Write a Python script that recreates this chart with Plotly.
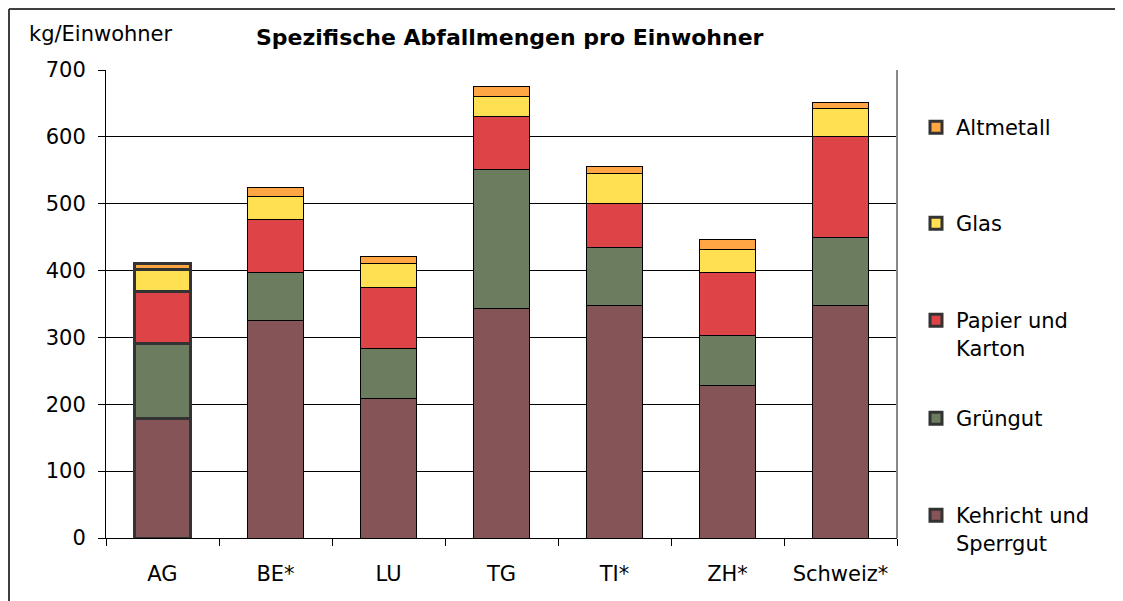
import plotly.graph_objects as go

categories = ["AG", "BE*", "LU", "TG", "TI*", "ZH*", "Schweiz*"]
kehricht = [179, 325, 208, 343, 348, 228, 348]
gruengut = [112, 72, 75, 208, 86, 75, 102]
papier = [78, 80, 91, 80, 67, 94, 150]
glas = [32, 34, 36, 29, 44, 34, 42]
altmetall = [10, 13, 11, 16, 11, 15, 10]

series_names = ["Kehricht und<br>Sperrgut", "Grüngut", "Papier und<br>Karton", "Glas", "Altmetall"]
series_values = [kehricht, gruengut, papier, glas, altmetall]
colors = ["#855457", "#6C7C5E", "#DD4448", "#FFE052", "#FFA644"]
# screen y of first text line centre of each legend entry
legend_line_y = [515, 418, 320, 223, 127]

FONT = "DejaVu Sans"
OFF = 8  # page body margin
W, H = 1123, 601
PL, PT, PW, PH = 106, 70, 791, 468  # plot area in screen pixels
L, T = PL - OFF, PT - OFF
R, B = W - L - PW, H - T - PH


def px(x):
    return (x - PL) / PW


def py(y):
    return (PT + PH - y) / PH


line_widths = [3] + [1] * (len(categories) - 1)
line_colors = ["#333333"] + ["#000000"] * (len(categories) - 1)

fig = go.Figure()
legends = {}
for i, (name, vals, col, ly) in enumerate(zip(series_names, series_values, colors, legend_line_y)):
    key = "legend" if i == 0 else f"legend{i + 1}"
    fig.add_trace(go.Bar(
        x=categories, y=vals, name=name,
        marker=dict(color=col, line=dict(color=line_colors, width=line_widths)),
        legend=key,
    ))
    legends[key] = dict(
        x=px(916), y=py(ly - 20), xanchor="left", yanchor="top",
        valign="top", font=dict(family=FONT, size=21, color="black"),
        bgcolor="rgba(0,0,0,0)",
    )

fig.update_layout(
    barmode="stack",
    bargap=0.5,
    width=W, height=H,
    margin=dict(l=L, r=R, t=T, b=B, pad=0),
    paper_bgcolor="white",
    plot_bgcolor="white",
    font=dict(family=FONT, size=21, color="black"),
    showlegend=True,
    xaxis=dict(
        showgrid=False, showline=True, linecolor="black", linewidth=1,
        ticks="outside", tickson="boundaries", ticklen=7, tickcolor="black",
        tickfont=dict(family=FONT, size=21, color="black"),
        ticklabelstandoff=17,
    ),
    yaxis=dict(
        range=[0, 700], dtick=100, showgrid=True, gridcolor="black", gridwidth=1,
        showline=True, linecolor="black", linewidth=1,
        ticks="outside", ticklen=7, tickcolor="black",
        tickfont=dict(family=FONT, size=21, color="black"),
        ticklabelstandoff=8, zeroline=False,
    ),
    annotations=[
        dict(text="<b>Spezifische Abfallmengen pro Einwohner</b>", xref="paper", yref="paper",
             x=px(510), y=py(37), xanchor="center", yanchor="middle", showarrow=False,
             font=dict(family=FONT, size=22, color="black")),
        dict(text="kg/Einwohner", xref="paper", yref="paper",
             x=px(27), y=py(34), xanchor="left", yanchor="middle", showarrow=False,
             font=dict(family=FONT, size=21, color="black")),
    ],
    shapes=[
        dict(type="line", xref="paper", yref="paper", x0=1, x1=1, y0=0, y1=1,
             line=dict(color="#888888", width=2)),
        dict(type="line", xref="paper", yref="paper", x0=px(9), x1=px(1140), y0=py(9), y1=py(9),
             line=dict(color="#404040", width=2)),
        dict(type="line", xref="paper", yref="paper", x0=px(9), x1=px(9), y0=py(9), y1=py(620),
             line=dict(color="#404040", width=2)),
    ],
    **legends,
)

fig.write_html("out.html")
